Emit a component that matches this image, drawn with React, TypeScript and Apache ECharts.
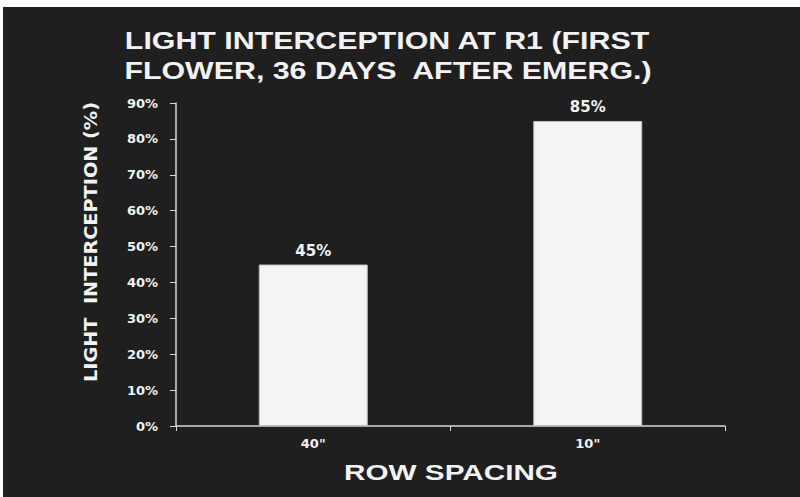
import React, { useEffect, useRef } from "react";
import * as echarts from "echarts";

const categories = ['40"', '10"'];
const values = [45, 85];
const yTicks = [0, 10, 20, 30, 40, 50, 60, 70, 80, 90];
const titleLines = ["LIGHT INTERCEPTION AT R1 (FIRST", "FLOWER, 36 DAYS  AFTER EMERG.)"];
const xName = "ROW SPACING";
const yName = "LIGHT  INTERCEPTION (%)";

export default function App() {
  const ref = useRef<HTMLDivElement>(null);
  useEffect(() => {
    const chart = echarts.init(ref.current!, null, { renderer: "svg" });
    const textColor = "#f2f2f2";
    const titleFont = "bold 23px 'Liberation Sans', Arial, sans-serif";
    chart.setOption({
      animation: false,
      backgroundColor: "#ffffff",
      graphic: [
        { type: "rect", z: -10, shape: { x: 3, y: 7, width: 797, height: 490 }, style: { fill: "#1f1f1f" } },
        {
          type: "text",
          x: 387,
          y: 41,
          scaleX: 1.32,
          style: { text: titleLines[0], fill: textColor, font: titleFont, align: "center", verticalAlign: "middle" },
        },
        {
          type: "text",
          x: 388,
          y: 71.5,
          scaleX: 1.32,
          style: { text: titleLines[1], fill: textColor, font: titleFont, align: "center", verticalAlign: "middle" },
        },
        {
          type: "text",
          x: 91,
          y: 242,
          rotation: Math.PI / 2,
          scaleX: 1.07,
          style: {
            text: yName,
            fill: textColor,
            font: "bold 18px 'DejaVu Sans', sans-serif",
            align: "center",
            verticalAlign: "middle",
          },
        },
        {
          type: "text",
          x: 451,
          y: 472,
          scaleX: 1.35,
          style: {
            text: xName,
            fill: textColor,
            font: "bold 22px 'Liberation Sans', Arial, sans-serif",
            align: "center",
            verticalAlign: "middle",
          },
        },
      ],
      grid: { left: 176, right: 75, top: 103, bottom: 71 },
      xAxis: {
        type: "category",
        data: categories,
        axisLine: { lineStyle: { color: "#d8d8d8", width: 1.5 } },
        axisTick: { show: true, length: 5, lineStyle: { color: "#d8d8d8" } },
        axisLabel: { color: textColor, fontSize: 13, fontWeight: "bold", fontFamily: "'DejaVu Sans', sans-serif", margin: 11 },
      },
      yAxis: {
        type: "value",
        min: yTicks[0],
        max: yTicks[yTicks.length - 1],
        interval: 10,
        axisLine: { show: true, lineStyle: { color: "#d8d8d8", width: 1.5 } },
        axisTick: { show: true, length: 6, lineStyle: { color: "#d8d8d8" } },
        splitLine: { show: false },
        axisLabel: {
          color: textColor,
          fontSize: 13,
          fontWeight: "bold",
          fontFamily: "'DejaVu Sans', sans-serif",
          margin: 18,
          formatter: (v: number) => v + "%",
        },
      },
      series: [
        {
          type: "bar",
          data: values,
          barWidth: 109,
          itemStyle: { color: "#f4f4f4", borderColor: "#bdbdbd", borderWidth: 1 },
          label: {
            show: true,
            position: "top",
            distance: 6,
            color: textColor,
            fontSize: 15,
            fontWeight: "bold",
            fontFamily: "'DejaVu Sans', sans-serif",
            formatter: (p: any) => p.value + "%",
          },
        },
      ],
    });
    return () => chart.dispose();
  }, []);
  return <div ref={ref} style={{ position: "fixed", left: 0, top: 0, width: 800, height: 497 }} />;
}
